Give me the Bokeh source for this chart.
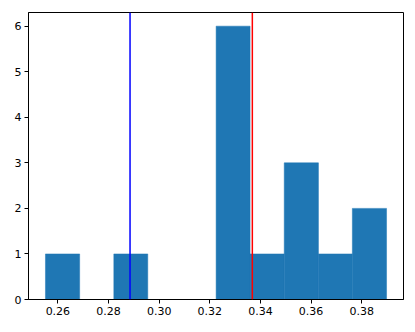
from bokeh.plotting import figure
from bokeh.models import Span, FixedTicker, Range1d
from bokeh.embed import file_html
from bokeh.resources import INLINE

# Histogram data
bin_left = [0.2551, 0.2686, 0.2821, 0.2955, 0.3090, 0.3225, 0.3359, 0.3494, 0.3629, 0.3763]
bin_right = [0.2686, 0.2821, 0.2955, 0.3090, 0.3225, 0.3359, 0.3494, 0.3629, 0.3763, 0.3898]
counts = [1, 0, 1, 0, 0, 6, 1, 3, 1, 2]
blue_line_x = 0.2885
red_line_x = 0.3368
x_ticks = [0.26, 0.28, 0.30, 0.32, 0.34, 0.36, 0.38]
y_ticks = [0, 1, 2, 3, 4, 5, 6]

p = figure(width=415, height=332, output_backend="svg", toolbar_location=None,
           x_range=Range1d(0.2484, 0.3965), y_range=Range1d(0, 6.3),
           min_border_left=28, min_border_right=12, min_border_top=12, min_border_bottom=33)

p.quad(left=bin_left, right=bin_right, bottom=[0] * len(counts), top=counts,
       fill_color="#1f77b4", line_color="#1f77b4", line_width=0.5)

p.add_layout(Span(location=blue_line_x, dimension="height", line_color="blue", line_width=1.5))
p.add_layout(Span(location=red_line_x, dimension="height", line_color="red", line_width=1.5))

p.xgrid.visible = False
p.ygrid.visible = False
p.outline_line_color = "black"
p.outline_line_width = 1
p.outline_line_alpha = 1
p.background_fill_color = "white"
p.border_fill_color = "white"

p.xaxis.ticker = FixedTicker(ticks=x_ticks)
p.yaxis.ticker = FixedTicker(ticks=y_ticks)
p.xaxis.formatter.use_scientific = False
for ax in (p.xaxis, p.yaxis):
    ax.major_label_text_font = "DejaVu Sans"
    ax.major_label_text_font_size = "11px"
    ax.major_label_text_color = "black"
    ax.axis_line_color = "black"
    ax.major_tick_line_color = "black"
    ax.major_tick_out = 4
    ax.major_tick_in = 0
    ax.minor_tick_line_color = None
    ax.major_label_standoff = 3
p.xaxis.major_label_overrides = {t: f"{t:.2f}" for t in x_ticks}

open("out.html", "w").write(file_html(p, INLINE))
